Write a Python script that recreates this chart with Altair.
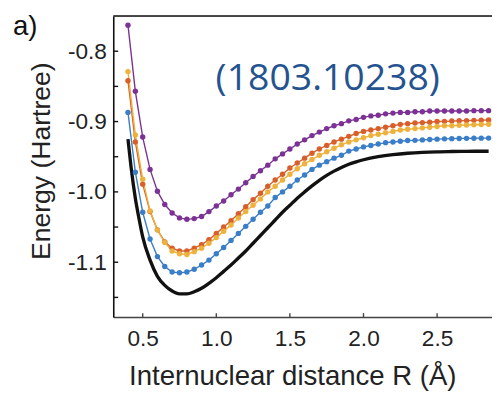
import altair as alt
import pandas as pd

# Internuclear distances of the sampled points (Angstrom)
R = [0.40, 0.45, 0.50, 0.55, 0.60, 0.65, 0.70, 0.75, 0.80, 0.85,
     0.90, 0.95, 1.00, 1.05, 1.10, 1.15, 1.20, 1.25, 1.30, 1.35,
     1.40, 1.45, 1.50, 1.55, 1.60, 1.65, 1.70, 1.75, 1.80, 1.85,
     1.90, 1.95, 2.00, 2.05, 2.10, 2.15, 2.20, 2.25, 2.30, 2.35,
     2.40, 2.45, 2.50, 2.55, 2.60, 2.65, 2.70, 2.75, 2.80, 2.85]

purple = [-0.763, -0.857, -0.922, -0.968, -0.999, -1.018, -1.030, -1.037, -1.039, -1.038,
          -1.035, -1.028, -1.020, -1.013, -1.004, -0.996, -0.987, -0.978, -0.970, -0.962,
          -0.953, -0.946, -0.939, -0.932, -0.926, -0.920, -0.915, -0.910, -0.906, -0.903,
          -0.899, -0.897, -0.894, -0.892, -0.891, -0.889, -0.888, -0.887, -0.887, -0.886,
          -0.886, -0.885, -0.885, -0.885, -0.885, -0.885, -0.885, -0.8845, -0.8845, -0.8845]

red = [-0.842, -0.929, -0.989, -1.028, -1.054, -1.071, -1.080, -1.084, -1.084, -1.080,
       -1.075, -1.068, -1.059, -1.050, -1.041, -1.031, -1.021, -1.011, -1.002, -0.992,
       -0.983, -0.975, -0.966, -0.959, -0.952, -0.945, -0.939, -0.934, -0.929, -0.925,
       -0.921, -0.917, -0.914, -0.912, -0.910, -0.908, -0.906, -0.904, -0.903, -0.902,
       -0.9015, -0.901, -0.900, -0.8997, -0.8993, -0.8989, -0.8986, -0.8983, -0.8980, -0.8978]

yellow = [-0.829, -0.919, -0.982, -1.027, -1.054, -1.072, -1.084, -1.088, -1.089, -1.085,
          -1.080, -1.073, -1.065, -1.056, -1.047, -1.037, -1.028, -1.019, -1.010, -1.000,
          -0.992, -0.983, -0.975, -0.967, -0.960, -0.954, -0.948, -0.943, -0.938, -0.933,
          -0.929, -0.926, -0.923, -0.920, -0.918, -0.916, -0.914, -0.912, -0.911, -0.910,
          -0.909, -0.908, -0.907, -0.906, -0.9059, -0.9053, -0.9049, -0.9045, -0.9042, -0.9039]

blue = [-0.887, -0.972, -1.029, -1.067, -1.092, -1.106, -1.114, -1.115, -1.114, -1.110,
        -1.104, -1.097, -1.088, -1.079, -1.069, -1.059, -1.049, -1.039, -1.029, -1.020,
        -1.008, -1.000, -0.992, -0.983, -0.976, -0.968, -0.962, -0.957, -0.952, -0.948,
        -0.942, -0.939, -0.936, -0.934, -0.932, -0.930, -0.929, -0.928, -0.927, -0.9267,
        -0.9261, -0.9256, -0.9250, -0.9246, -0.9243, -0.9240, -0.9239, -0.9237, -0.9236, -0.9235]

# Reference (thick black) curve
black_R = [0.40, 0.42, 0.45, 0.475, 0.50, 0.55, 0.60, 0.65, 0.70, 0.75, 0.80, 0.85,
           0.90, 0.95, 1.00, 1.05, 1.10, 1.15, 1.20, 1.25, 1.30, 1.35, 1.40, 1.45,
           1.50, 1.55, 1.60, 1.65, 1.70, 1.75, 1.80, 1.85, 1.90, 1.95, 2.00, 2.10,
           2.20, 2.30, 2.40, 2.50, 2.60, 2.70, 2.80, 2.85]
black_E = [-0.925, -0.963, -1.009, -1.038, -1.064, -1.097, -1.120, -1.133, -1.141, -1.145, -1.145, -1.142,
           -1.137, -1.130, -1.122, -1.113, -1.104, -1.094, -1.084, -1.073, -1.062, -1.051, -1.040, -1.029,
           -1.019, -1.009, -1.000, -0.9915, -0.9835, -0.9765, -0.9705, -0.9652, -0.9607, -0.9572, -0.9543, -0.9500,
           -0.9471, -0.9451, -0.9438, -0.9430, -0.9426, -0.9423, -0.9422, -0.9422]

series_names = ["blue", "red", "yellow", "purple"]
series_colors = ["#3a7dc8", "#d95f2a", "#edb13c", "#7b3294"]

x_ticks = [0.5, 1.0, 1.5, 2.0, 2.5]
y_labels = [-1.1, -1.0, -0.9, -0.8]
y_ticks = [-1.15, -1.1, -1.05, -1.0, -0.95, -0.9, -0.85, -0.8]
x_domain = [0.3, 2.873]
y_domain = [-1.178, -0.75]

panel_label = ["a)"]
note_label = ["(1803.10238)"]

rows = []
for name, vals in zip(series_names, [blue, red, yellow, purple]):
    for r, e in zip(R, vals):
        rows.append({"R": r, "E": e, "series": name})
df = pd.DataFrame(rows)
df_black = pd.DataFrame({"R": black_R, "E": black_E})

W, H = 385, 306
FONT = "Liberation Sans"

xscale = alt.Scale(domain=x_domain, nice=False, zero=False)
yscale = alt.Scale(domain=y_domain, nice=False, zero=False)
color = alt.Color("series:N", scale=alt.Scale(domain=series_names, range=series_colors), legend=None)

x_axis = alt.Axis(values=x_ticks, format=".1f", labelFontSize=23, labelFont=FONT, labelColor="#222",
                  labelPadding=11, ticks=False, tickSize=0, grid=False, domainColor="#444",
                  domainWidth=1.6, title="Internuclear distance R (Å)", titleFont=FONT,
                  titleFontSize=28, titleFontWeight="normal", titleColor="#222",
                  titleX=182, titleY=69, titleBaseline="alphabetic", titleAlign="center")
y_axis = alt.Axis(values=y_labels,
                  labelExpr="datum.value < 0 ? '-' + format(-datum.value, '.1f') : format(datum.value, '.1f')",
                  labelFontSize=23, labelFont=FONT, labelColor="#222", labelPadding=7,
                  ticks=False, tickSize=0, grid=False, domainColor="#111", domainWidth=1.6,
                  title="Energy (Hartree)", titleFont=FONT, titleFontSize=27,
                  titleFontWeight="normal", titleColor="#222", titleAngle=270,
                  titleX=-65, titleY=147, titleBaseline="alphabetic", titleAlign="center")

black = alt.Chart(df_black).mark_line(color="#111", strokeWidth=3.4, interpolate="monotone").encode(
    x=alt.X("R:Q", scale=xscale, axis=x_axis),
    y=alt.Y("E:Q", scale=yscale, axis=y_axis),
)

lines = alt.Chart(df).mark_line(strokeWidth=1.4).encode(
    x=alt.X("R:Q", scale=xscale), y=alt.Y("E:Q", scale=yscale), color=color, detail="series:N"
)
points = alt.Chart(df).mark_circle(size=30, opacity=1).encode(
    x=alt.X("R:Q", scale=xscale), y=alt.Y("E:Q", scale=yscale), color=color
)

xt = alt.Chart(pd.DataFrame({"R": x_ticks})).mark_rule(color="#444", strokeWidth=1.4).encode(
    x=alt.X("R:Q", scale=xscale), y=alt.value(H), y2=alt.value(H - 4)
)
yt = alt.Chart(pd.DataFrame({"E": y_ticks})).mark_rule(color="#111", strokeWidth=1.4).encode(
    y=alt.Y("E:Q", scale=yscale), x=alt.value(0), x2=alt.value(5)
)
top = alt.Chart(pd.DataFrame({"E": [y_domain[1]]})).mark_rule(color="#111", strokeWidth=1.6).encode(
    y=alt.Y("E:Q", scale=yscale), x=alt.value(0), x2=alt.value(W)
)

lab_a = alt.Chart(pd.DataFrame({"t": panel_label})).mark_text(
    font=FONT, fontSize=28, align="left", baseline="alphabetic", color="#111"
).encode(text="t:N", x=alt.value(-102), y=alt.value(19))

note = alt.Chart(pd.DataFrame({"t": note_label})).mark_text(
    font="Open Sans", fontSize=38, align="center", baseline="alphabetic", color="#24538f"
).encode(text="t:N", x=alt.value(218), y=alt.value(75))

chart = alt.layer(black, lines, points, xt, yt, top, lab_a, note).properties(
    width=W, height=H,
    autosize=alt.AutoSizeParams(type="none"),
    padding={"left": 107, "top": 5, "right": 0, "bottom": 75},
).configure_view(stroke=None).configure(background="white")

chart.save("out.html", embed_options={"renderer": "svg", "actions": False})
